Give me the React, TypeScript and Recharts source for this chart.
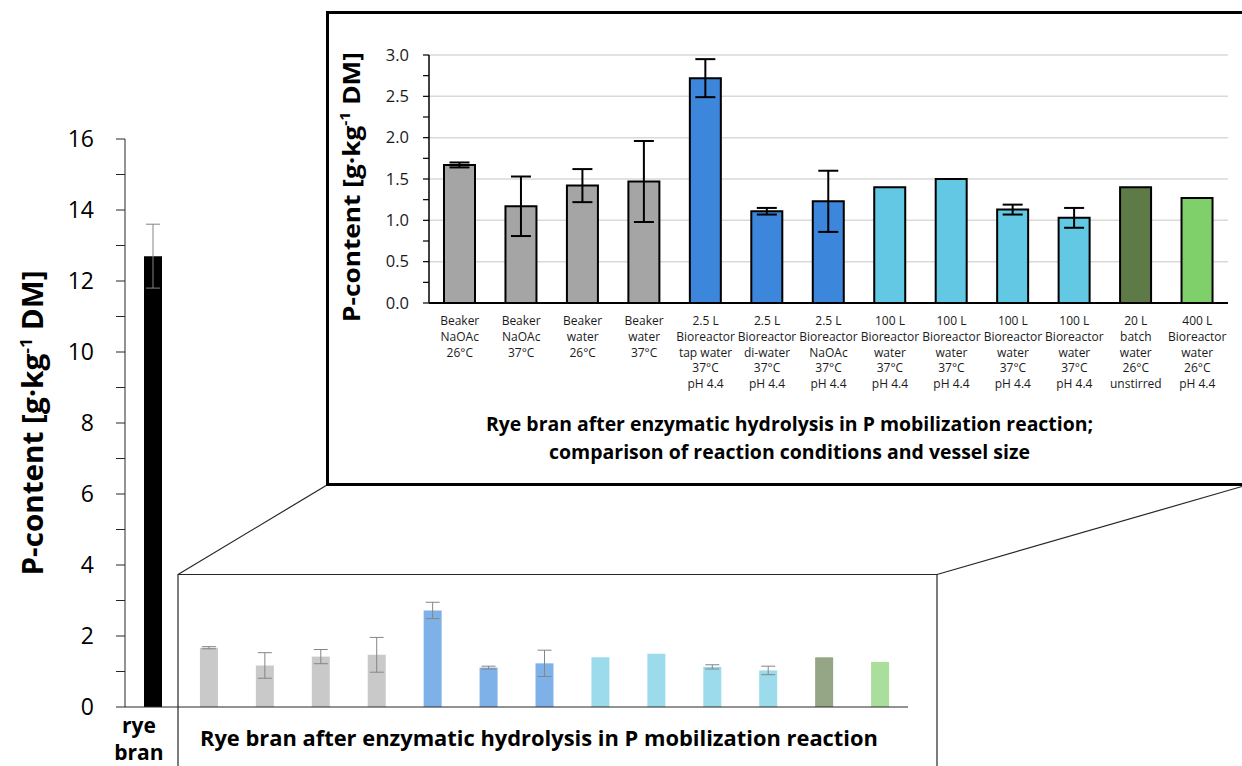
import React from 'react';
import {
  BarChart,
  Bar,
  XAxis,
  YAxis,
  ErrorBar,
  Cell,
  CartesianGrid,
  Label,
} from 'recharts';

const FONT = '"Open Sans", "DejaVu Sans", sans-serif';

// rye bran before treatment
const ryeBranLabel = ['rye', 'bran'];
const ryeBranValue = 12.7;
const ryeBranError = 0.9;

// after enzymatic hydrolysis
const hydrolysisLabels: string[][] = [
  ['Beaker', 'NaOAc', '26°C'],
  ['Beaker', 'NaOAc', '37°C'],
  ['Beaker', 'water', '26°C'],
  ['Beaker', 'water', '37°C'],
  ['2.5 L', 'Bioreactor', 'tap water', '37°C', 'pH 4.4'],
  ['2.5 L', 'Bioreactor', 'di-water', '37°C', 'pH 4.4'],
  ['2.5 L', 'Bioreactor', 'NaOAc', '37°C', 'pH 4.4'],
  ['100 L', 'Bioreactor', 'water', '37°C', 'pH 4.4'],
  ['100 L', 'Bioreactor', 'water', '37°C', 'pH 4.4'],
  ['100 L', 'Bioreactor', 'water', '37°C', 'pH 4.4'],
  ['100 L', 'Bioreactor', 'water', '37°C', 'pH 4.4'],
  ['20 L', 'batch', 'water', '26°C', 'unstirred'],
  ['400 L', 'Bioreactor', 'water', '26°C', 'pH 4.4'],
];
const hydrolysisValues = [1.67, 1.17, 1.42, 1.47, 2.72, 1.11, 1.23, 1.4, 1.5, 1.13, 1.03, 1.4, 1.27];
const hydrolysisErrors = [0.03, 0.36, 0.2, 0.49, 0.23, 0.04, 0.37, 0, 0, 0.06, 0.12, 0, 0];
const hydrolysisColors = [
  '#A5A5A5', '#A5A5A5', '#A5A5A5', '#A5A5A5',
  '#3C87DB', '#3C87DB', '#3C87DB',
  '#63C8E3', '#63C8E3', '#63C8E3', '#63C8E3',
  '#5E7B47', '#7FCF6B',
];
const hydrolysisFaded = [
  '#C9C9C9', '#C9C9C9', '#C9C9C9', '#C9C9C9',
  '#7EB1E8', '#7EB1E8', '#7EB1E8',
  '#9CDBEC', '#9CDBEC', '#9CDBEC', '#9CDBEC',
  '#94A686', '#AADE9D',
];

const mainTicks = [0, 1, 2, 3, 4, 5, 6, 7, 8, 9, 10, 11, 12, 13, 14, 15, 16];
const insetTicks = [0, 0.25, 0.5, 0.75, 1, 1.25, 1.5, 1.75, 2, 2.25, 2.5, 2.75, 3];
const insetGridValues = [0.5, 1, 1.5, 2, 2.5, 3];

const mainTitle = 'Rye bran after enzymatic hydrolysis in P mobilization reaction';
const insetTitle = [
  'Rye bran after enzymatic hydrolysis in P mobilization reaction;',
  'comparison of reaction conditions and vessel size',
];

const mainData = [
  { id: 'rye', value: ryeBranValue, err: ryeBranError },
  ...hydrolysisValues.map((v, i) => ({ id: `h${i}`, value: v, err: hydrolysisErrors[i] })),
];
const mainColors = ['#000000', ...hydrolysisFaded];

const insetData = hydrolysisValues.map((v, i) => ({
  id: `h${i}`,
  value: v,
  err: hydrolysisErrors[i],
}));

function PContentTitle({ x, y, size, length }: { x: number; y: number; size: number; length: number }) {
  return (
    <text
      x={x}
      y={y}
      transform={`rotate(-90 ${x} ${y})`}
      textAnchor="middle"
      fontFamily={FONT}
      fontWeight={700}
      fontSize={size}
      fill="#000"
      textLength={length}
      lengthAdjust="spacingAndGlyphs"
    >
      P-content [g·kg
      <tspan dy={-size * 0.4} fontSize={size * 0.6}>
        -1
      </tspan>
      <tspan dy={size * 0.4}> DM]</tspan>
    </text>
  );
}

const MainYTick = (props: any) => {
  const { x, y, payload } = props;
  if (payload.value % 2 !== 0) return <g />;
  return (
    <text x={x} y={y} dy="0.35em" textAnchor="end" fontFamily={FONT} fontSize={23} fill="#000">
      {payload.value}
    </text>
  );
};

const MainXTick = (props: any) => {
  const { x, y, index } = props;
  if (index === 0) {
    return (
      <text textAnchor="middle" fontFamily={FONT} fontWeight={700} fontSize={21} fill="#000">
        <tspan x={x - 14} y={y + 26}>{ryeBranLabel[0]}</tspan>
        <tspan x={x - 14} y={y + 53}>{ryeBranLabel[1]}</tspan>
      </text>
    );
  }
  if (index === 7) {
    return (
      <text
        x={x - 5.5}
        y={y + 39}
        textAnchor="middle"
        fontFamily={FONT}
        fontWeight={700}
        fontSize={22}
        fill="#000"
        textLength={678}
        lengthAdjust="spacingAndGlyphs"
      >
        {mainTitle}
      </text>
    );
  }
  return <g />;
};

const InsetYTick = (props: any) => {
  const { x, y, payload } = props;
  if ((payload.value * 2) % 1 !== 0) return <g />;
  return (
    <text x={x} y={y} dy="0.35em" textAnchor="end" fontFamily={FONT} fontSize={16.5} fill="#1a1a1a">
      {payload.value.toFixed(1)}
    </text>
  );
};

const InsetXTick = (props: any) => {
  const { x, y, index } = props;
  const lines = hydrolysisLabels[index] || [];
  return (
    <text textAnchor="middle" fontFamily={FONT} fontSize={12} fill="#1a1a1a">
      {lines.map((l, i) => (
        <tspan key={i} x={x} y={y + 22 + i * 15.8}>
          {l}
        </tspan>
      ))}
    </text>
  );
};

export default function App() {
  return (
    <div
      style={{
        position: 'absolute',
        left: 0,
        top: 0,
        width: 1242,
        height: 766,
        overflow: 'hidden',
        background: '#fff',
      }}
    >
      {/* main chart: rye bran + faded hydrolysis bars */}
      <div style={{ position: 'absolute', left: 0, top: 0 }}>
        <BarChart
          width={1242}
          height={766}
          data={mainData}
          margin={{ top: 139, right: 334, bottom: 0, left: 0 }}
        >
          <YAxis
            width={125}
            domain={[0, 16]}
            ticks={mainTicks}
            interval={0}
            tickSize={9}
            tickMargin={22}
            tick={<MainYTick />}
            axisLine={{ stroke: '#262626' }}
            tickLine={{ stroke: '#262626' }}
          >
            <Label
              content={(p: any) => (
                <PContentTitle
                  x={43}
                  y={p.viewBox.y + p.viewBox.height / 2}
                  size={28}
                  length={305}
                />
              )}
            />
          </YAxis>
          <XAxis
            dataKey="id"
            height={59}
            interval={0}
            tickLine={false}
            tickSize={0}
            tickMargin={0}
            tick={<MainXTick />}
            axisLine={{ stroke: '#262626' }}
          />
          <Bar dataKey="value" barSize={18} isAnimationActive={false}>
            {mainData.map((d, i) => (
              <Cell key={d.id} fill={mainColors[i]} />
            ))}
            <ErrorBar dataKey="err" width={7} stroke="#858585" strokeWidth={1} direction="y" />
          </Bar>
        </BarChart>
      </div>

      {/* zoom frame and connector lines */}
      <svg
        width={1242}
        height={766}
        style={{ position: 'absolute', left: 0, top: 0, pointerEvents: 'none' }}
      >
        <g stroke="#262626" strokeWidth={1.2} fill="none">
          <polyline points="178,766 178,574.5 937,574.5 937,766" />
          <line x1={178} y1={574.5} x2={327} y2={485} />
          <line x1={937} y1={574.5} x2={1242} y2={486.5} />
        </g>
      </svg>

      {/* inset chart */}
      <div
        style={{
          position: 'absolute',
          left: 326,
          top: 11,
          width: 940,
          height: 475,
          border: '3px solid #000',
          boxSizing: 'border-box',
          background: '#fff',
        }}
      >
        <BarChart
          width={913}
          height={469}
          data={insetData}
          margin={{ top: 41, right: 14, bottom: 0, left: 0 }}
        >
          <CartesianGrid
            vertical={false}
            horizontalValues={insetGridValues}
            stroke="#D9D9D9"
            strokeWidth={1.5}
          />
          <YAxis
            width={100}
            domain={[0, 3]}
            ticks={insetTicks}
            interval={0}
            tickSize={6}
            tickMargin={14}
            tick={<InsetYTick />}
            axisLine={{ stroke: '#000', strokeWidth: 1.5 }}
            tickLine={{ stroke: '#000', strokeWidth: 1.2 }}
          >
            <Label
              content={(p: any) => (
                <PContentTitle
                  x={p.viewBox.x + 31}
                  y={p.viewBox.y + 132}
                  size={24}
                  length={270}
                />
              )}
            />
          </YAxis>
          <XAxis
            dataKey="id"
            height={180}
            interval={0}
            tickLine={false}
            tickSize={0}
            tickMargin={0}
            tick={<InsetXTick />}
            axisLine={{ stroke: '#000', strokeWidth: 2 }}
          >
            <Label
              content={(p: any) => (
                <text
                  textAnchor="middle"
                  fontFamily={FONT}
                  fontWeight={700}
                  fontSize={19}
                  fill="#000"
                >
                  <tspan
                    x={p.viewBox.x + 360.5}
                    y={p.viewBox.y + 128}
                    textLength={607}
                    lengthAdjust="spacingAndGlyphs"
                  >
                    {insetTitle[0]}
                  </tspan>
                  <tspan
                    x={p.viewBox.x + 360.5}
                    y={p.viewBox.y + 156}
                    textLength={481}
                    lengthAdjust="spacingAndGlyphs"
                  >
                    {insetTitle[1]}
                  </tspan>
                </text>
              )}
            />
          </XAxis>
          <Bar
            dataKey="value"
            barSize={31}
            stroke="#000"
            strokeWidth={2}
            isAnimationActive={false}
          >
            {insetData.map((d, i) => (
              <Cell key={d.id} fill={hydrolysisColors[i]} />
            ))}
            <ErrorBar dataKey="err" width={10} stroke="#000" strokeWidth={2} direction="y" />
          </Bar>
        </BarChart>
      </div>
    </div>
  );
}
